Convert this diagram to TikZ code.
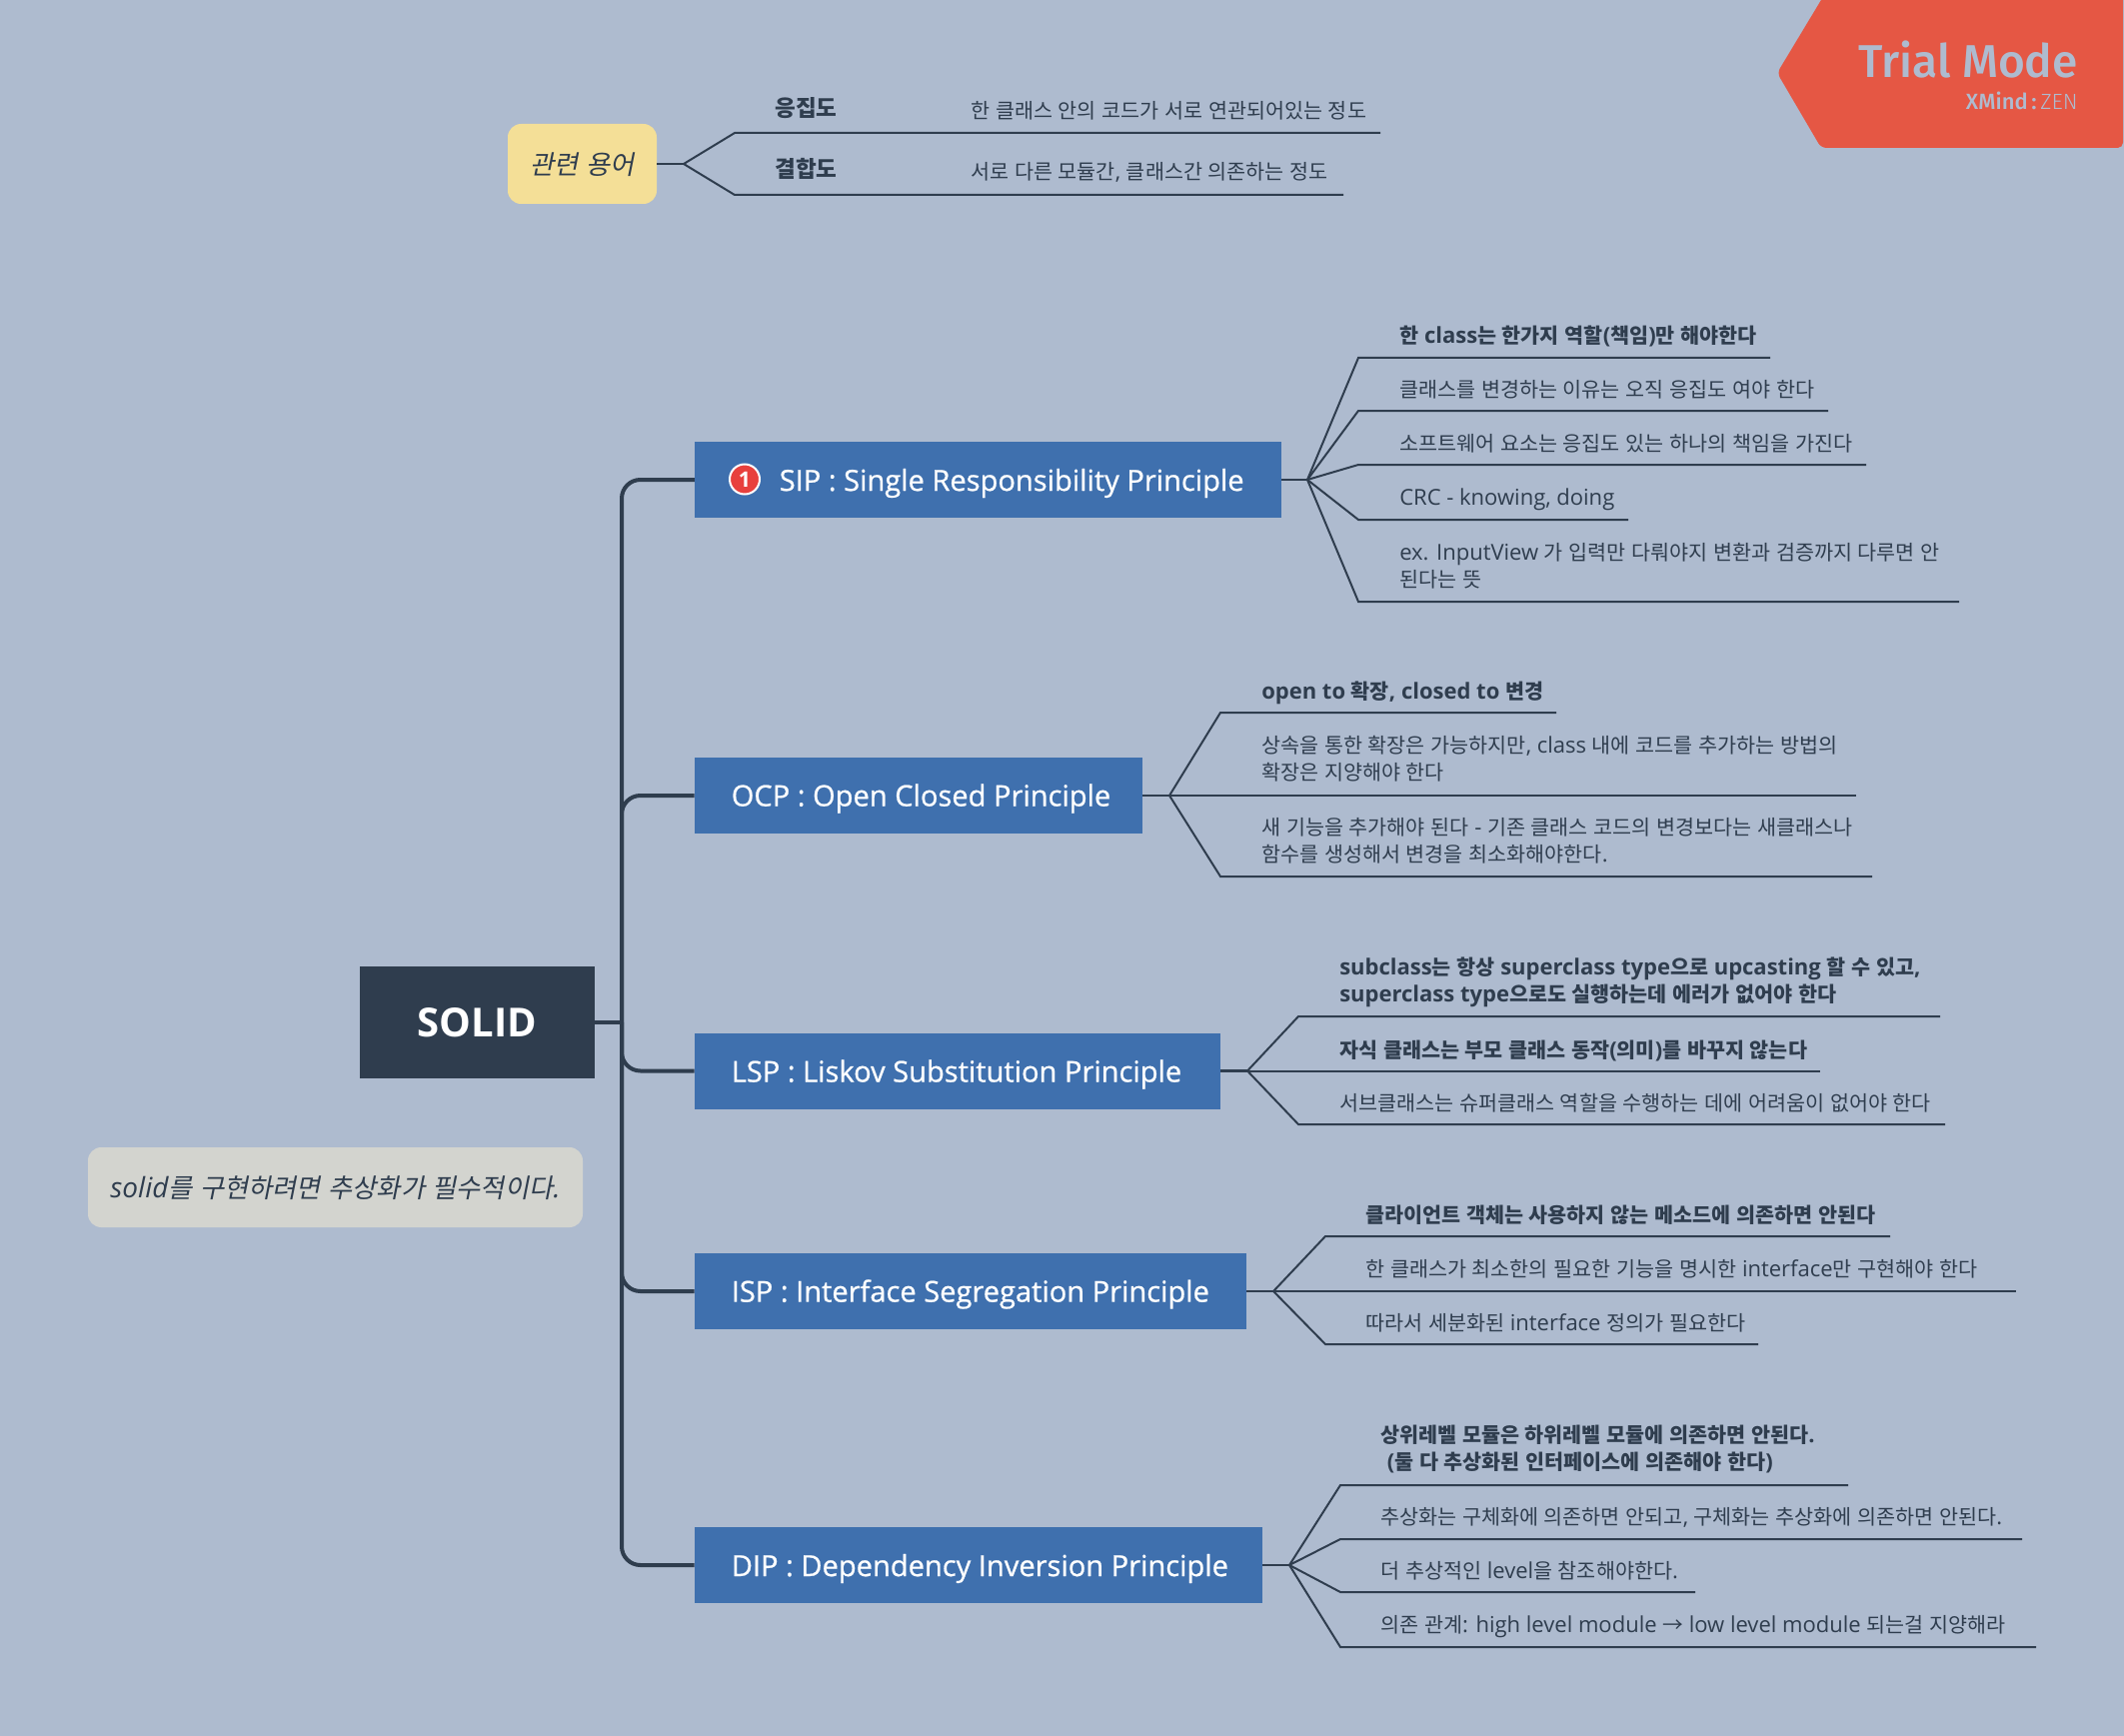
\documentclass[tikz,border=0pt]{standalone}
\usepackage{fontspec}
\setmainfont{Open Sans}
\newfontfamily\krfam{Noto Sans CJK KR}[Scale=0.94,AutoFakeSlant=0.2]
\newfontfamily\trialfont{Fira Sans}[BoldFont={Fira Sans Medium}]
\newfontfamily\zenfont{Fira Sans Light}
\newfontfamily\semifam{Open Sans}[FakeBold=0.7]
\newXeTeXintercharclass\krclass
\count255="AC00
\loop\ifnum\count255<"D7A4
  \XeTeXcharclass\count255=\krclass
  \advance\count255 by 1
\repeat
\XeTeXcharclass"2192=\krclass
\XeTeXinterchartoks 0 \krclass={\begingroup\krfam}
\XeTeXinterchartoks 4095 \krclass={\begingroup\krfam}
\XeTeXinterchartoks \krclass 0={\endgroup}
\XeTeXinterchartoks \krclass 4095={\endgroup}
\XeTeXinterchartokenstate=1
\definecolor{bgc}{HTML}{AEBBCF}
\definecolor{darkc}{HTML}{2F3D4E}
\definecolor{bluec}{HTML}{3F70AE}
\definecolor{yellowc}{HTML}{F4DF97}
\definecolor{grayc}{HTML}{D3D4CF}
\definecolor{redc}{HTML}{E55744}
\definecolor{badgec}{HTML}{E8403D}
\tikzset{
  rootbox/.style={fill=darkc,text=white,inner sep=0pt,font=\fontsize{30}{36}\selectfont\bfseries},
  topicbox/.style={fill=bluec,text=white,inner sep=0pt,minimum height=57pt},
  topictext/.style={anchor=west,inner sep=0pt,text=white,font=\fontsize{21.8}{27}\selectfont\semifam},
  subtext/.style={text=darkc,anchor=west,inner sep=0pt,align=left,font=\fontsize{16.5}{20.25}\selectfont},
  boldtext/.style={subtext,font=\fontsize{16.5}{20.25}\selectfont\bfseries},
  termtext/.style={subtext,font=\fontsize{18}{22}\selectfont\bfseries},
  spine/.style={draw=darkc,line width=3pt,rounded corners=14pt},
  stub/.style={draw=darkc,line width=2.2pt},
  branch/.style={draw=darkc,line width=1.5pt},
  notebox/.style={rounded corners=10pt,text=darkc,inner sep=0pt,font=\fontsize{21}{25}\selectfont\itshape},
}
% \leaf{name}{hub}{elbow x}{line y}{end x}{text x}{text y}{style}{text}
\newcommand{\leaf}[9]{%
  \node[#8] (#1) at (#6,#7) {#9};
  \coordinate (#1e) at (#3,#4);
  \coordinate (#1f) at (#5,#4);
  \draw[branch] (#2) -- (#1e) -- (#1f);
}
\begin{document}
\begin{tikzpicture}[x=0.75pt,y=-0.75pt]
\useasboundingbox (0,0) rectangle (2125,1737);
\fill[bgc] (0,0) rectangle (2125,1737);
% trial banner
\fill[redc,rounded corners=4pt] (2140,-10) -- (1828,-10) -- (1778,73) -- (1822,148) -- (2124,148) -- (2124,-10) -- cycle;
\node[anchor=base east,inner sep=0pt,text=bgc,font=\fontsize{34.5}{40}\selectfont\trialfont\bfseries] (trial) at (2079,78) {Trial Mode};
\node[anchor=base east,inner sep=0pt,text=bgc,font=\fontsize{16.5}{18}\selectfont] (xmind) at (2079,110) {{\trialfont\bfseries XMind\,:\,}{\zenfont ZEN}};
% root and topics
\node[rootbox,minimum width=176.25pt,minimum height=84pt] (root) at (477.5,1023) {SOLID};
\node[topicbox,minimum width=440pt] (t1) at (988.5,480) {};
\node[topicbox,minimum width=336pt] (t2) at (919,796) {};
\node[topicbox,minimum width=394.5pt] (t3) at (958,1071.5) {};
\node[topicbox,minimum width=414pt] (t4) at (971,1292) {};
\node[topicbox,minimum width=426pt] (t5) at (979,1566) {};
\node[topictext] (t1t) at (779.5,483.5) {SIP : Single Responsibility Principle};
\node[topictext] (t2t) at (731.5,799) {OCP : Open Closed Principle};
\node[topictext] (t3t) at (731.5,1075) {LSP : Liskov Substitution Principle};
\node[topictext] (t4t) at (731.5,1295) {ISP : Interface Segregation Principle};
\node[topictext] (t5t) at (731.5,1569.5) {DIP : Dependency Inversion Principle};
\node[circle,fill=badgec,draw=white,line width=1.5pt,minimum size=22.5pt,inner sep=0pt,text=white,font=\fontsize{16}{18}\selectfont\bfseries] (badge) at (745,479.5) {1};
% spine
\coordinate (sp) at (622,1023);
\draw[draw=darkc,line width=3pt] (root.east) -- (sp);
\foreach \t in {t1,t2,t3,t4,t5} {\draw[spine] (sp) |- (\t.west);}
% hubs
\coordinate (h1) at (1308,480);
\coordinate (h2) at (1170,796);
\coordinate (h3) at (1248,1071.5);
\coordinate (h4) at (1274,1292);
\coordinate (h5) at (1290,1566);
\foreach \t/\h in {t1/h1,t2/h2,t3/h3,t4/h4,t5/h5} {\draw[stub] (\t.east) -- (\h);}
% SIP
\leaf{a1}{h1}{1359}{358}{1771}{1400}{336.5}{boldtext}{한 class는 한가지 역할(책임)만 해야한다}
\leaf{a2}{h1}{1359}{411}{1829}{1400}{390}{subtext}{클래스를 변경하는 이유는 오직 응집도 여야 한다}
\leaf{a3}{h1}{1359}{465}{1867}{1400}{444}{subtext}{소프트웨어 요소는 응집도 있는 하나의 책임을 가진다}
\leaf{a4}{h1}{1359}{520}{1629}{1400}{499.5}{subtext}{CRC - knowing, doing}
\leaf{a5}{h1}{1359}{602}{1960}{1400}{566}{subtext}{ex. InputView 가 입력만 다뤄야지 변환과 검증까지 다루면 안\\된다는 뜻}
% OCP
\leaf{b1}{h2}{1221}{713}{1557}{1262}{693}{boldtext}{open to 확장, closed to 변경}
\leaf{b2}{h2}{1221}{796}{1857}{1262}{759.5}{subtext}{상속을 통한 확장은 가능하지만, class 내에 코드를 추가하는 방법의\\확장은 지양해야 한다}
\leaf{b3}{h2}{1221}{877}{1873}{1262}{841.5}{subtext}{새 기능을 추가해야 된다 - 기존 클래스 코드의 변경보다는 새클래스나\\함수를 생성해서 변경을 최소화해야한다.}
% LSP
\leaf{c1}{h3}{1299}{1017}{1941}{1340}{982.5}{boldtext}{subclass는 항상 superclass type으로 upcasting 할 수 있고,\\superclass type으로도 실행하는데 에러가 없어야 한다}
\leaf{c2}{h3}{1299}{1071.5}{1821}{1340}{1051}{boldtext}{자식 클래스는 부모 클래스 동작(의미)를 바꾸지 않는다}
\leaf{c3}{h3}{1299}{1125}{1946}{1340}{1103.5}{subtext}{서브클래스는 슈퍼클래스 역할을 수행하는 데에 어려움이 없어야 한다}
% ISP
\leaf{d1}{h4}{1326}{1237}{1891}{1366}{1216}{boldtext}{클라이언트 객체는 사용하지 않는 메소드에 의존하면 안된다}
\leaf{d2}{h4}{1326}{1292}{2017}{1366}{1270}{subtext}{한 클래스가 최소한의 필요한 기능을 명시한 interface만 구현해야 한다}
\leaf{d3}{h4}{1326}{1345}{1759}{1366}{1324}{subtext}{따라서 세분화된 interface 정의가 필요한다}
% DIP
\leaf{e1}{h5}{1341}{1486}{1849}{1381}{1449.5}{boldtext}{상위레벨 모듈은 하위레벨 모듈에 의존하면 안된다.\\\hspace*{5pt}(둘 다 추상화된 인터페이스에 의존해야 한다)}
\leaf{e2}{h5}{1341}{1540}{2023}{1381}{1518}{subtext}{추상화는 구체화에 의존하면 안되고, 구체화는 추상화에 의존하면 안된다.}
\leaf{e3}{h5}{1341}{1593}{1696}{1381}{1572}{subtext}{더 추상적인 level을 참조해야한다.}
\leaf{e4}{h5}{1341}{1648}{2037}{1381}{1628}{subtext}{의존 관계: high level module → low level module 되는걸 지양해라}
% related terms
\node[notebox,fill=yellowc,minimum width=111.75pt,minimum height=60pt] (rel) at (582.5,164) {};
\node[text=darkc,inner sep=0pt,font=\fontsize{21}{25}\selectfont\itshape] (relt) at (582.5,164.5) {관련 용어};
\coordinate (hr) at (684,164);
\draw[stub] (rel.east) -- (hr);
\leaf{r1}{hr}{735}{133}{1381}{775}{108}{termtext}{응집도}
\leaf{r2}{hr}{735}{195}{1344}{775}{169}{termtext}{결합도}
\coordinate (r1s) at (762,133); \coordinate (r1t) at (854,133);
\coordinate (r2s) at (762,195); \coordinate (r2t) at (854,195);
\draw[stub] (r1s) -- (r1t);
\draw[stub] (r2s) -- (r2t);
\node[subtext] (r1c) at (971,110.5) {한 클래스 안의 코드가 서로 연관되어있는 정도};
\node[subtext] (r2c) at (971,172.5) {서로 다른 모듈간, 클래스간 의존하는 정도};
% note
\node[notebox,fill=grayc,minimum width=371.25pt,minimum height=60pt] (note) at (335.5,1188) {};
\node[text=darkc,inner sep=0pt,font=\fontsize{21}{25}\selectfont\itshape] (notet) at (335.5,1188.5) {solid를 구현하려면 추상화가 필수적이다.};
\end{tikzpicture}
\end{document}
